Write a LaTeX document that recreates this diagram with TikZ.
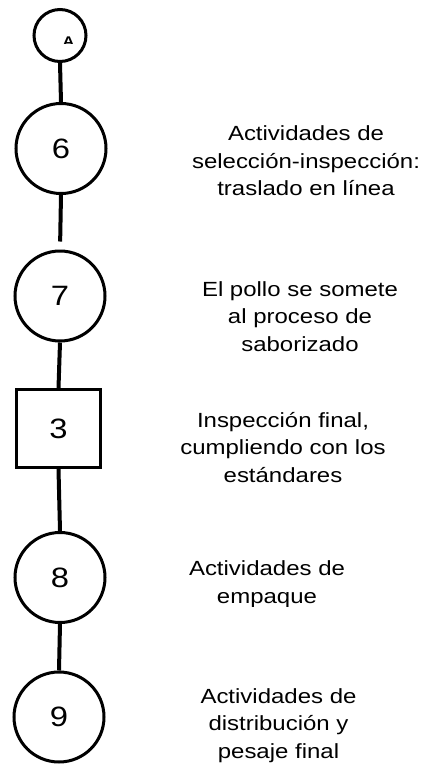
\documentclass[tikz,border=0pt]{standalone}
\usepackage{fontspec}
\setmainfont{Liberation Sans}[FakeStretch=1.17]
\begin{document}
\begin{tikzpicture}[x=1pt,y=-1pt,
  opc/.style={circle, draw=black, line width=3pt, minimum size=90pt, inner sep=0pt,
    font=\fontsize{28}{30}\selectfont},
  insp/.style={rectangle, draw=black, line width=3pt, minimum width=84pt, minimum height=78pt,
    inner sep=0pt, font=\fontsize{28}{30}\selectfont},
  conn/.style={draw=black, line width=4pt},
  lbl/.style={align=center, inner sep=0pt, font=\fontsize{20.5}{27.5}\selectfont, anchor=base}]
\useasboundingbox (0,0) rectangle (423,764);
% nodes
\node[circle, draw=black, line width=3pt, minimum size=52pt, inner sep=0pt] (a) at (60,35.5) {};
\begin{scope}
  \clip (55,30) rectangle (80,43.3);
  \node[inner sep=0pt, anchor=base, font=\fontsize{14}{14}\bfseries] (aa) at (68.5,46.5) {A};
\end{scope}
\node[opc] (n6) at (61,148.5) {6};
\node[opc] (n7) at (60,296) {7};
\node[insp] (n3) at (58.5,428.5) {3};
\node[opc] (n8) at (60,577.5) {8};
\node[opc] (n9) at (59,717) {9};
% connectors
\draw[conn] (a.south) -- (n6.north);
\draw[conn, shorten >=8pt] (n6.south) -- (n7.north);
\draw[conn] (n7.south) -- (n3.north);
\draw[conn] (n3.south) -- (n8.north);
\draw[conn] (n8.south) -- (n9.north);
% labels (anchor=base is the baseline of the last line)
\node[lbl] (t6) at (306,195.5) {Actividades de\\selección-inspección:\\traslado en línea};
\node[lbl] (t7) at (300,351) {El pollo se somete\\al proceso de\\saborizado};
\node[lbl] (t3) at (283,482) {Inspección final,\\cumpliendo con los\\estándares};
\begin{scope}
  \clip (150,550) rectangle (423,606);
  \node[lbl] (t8) at (267,603) {Actividades de\\empaque};
\end{scope}
\node[lbl] (t9) at (278.5,758) {Actividades de\\distribución y\\pesaje final};
\end{tikzpicture}
\end{document}
